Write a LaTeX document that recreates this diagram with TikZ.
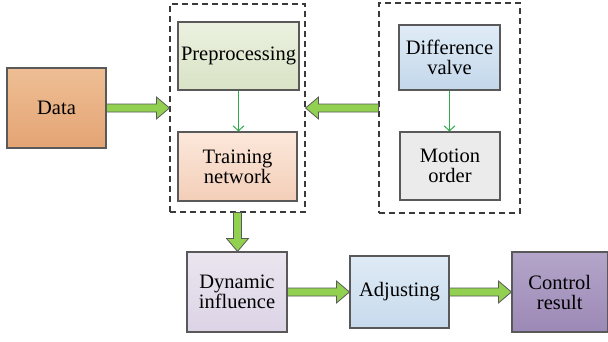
\documentclass[tikz,border=0pt]{standalone}
\usepackage{fontspec}
\setmainfont{Liberation Serif}
\usetikzlibrary{calc,arrows.meta}
\definecolor{arrowgreen}{HTML}{92D050}
\definecolor{outl}{HTML}{595959}
\definecolor{thingreen}{HTML}{2EAA4C}
\definecolor{dashc}{HTML}{3A3A3A}
\definecolor{dataT}{HTML}{EEBE94}\definecolor{dataB}{HTML}{E4A474}
\definecolor{preT}{HTML}{EBF1E0}\definecolor{preB}{HTML}{D9E3C5}
\definecolor{trT}{HTML}{FCE8DB}\definecolor{trB}{HTML}{F3CEB8}
\definecolor{diT}{HTML}{E0ECF7}\definecolor{diB}{HTML}{C3D7EA}
\definecolor{moF}{HTML}{EBEBEB}
\definecolor{dyT}{HTML}{EAE5EF}\definecolor{dyB}{HTML}{DCD4E6}
\definecolor{adT}{HTML}{DFEBF6}\definecolor{adB}{HTML}{C7DAEC}
\definecolor{crT}{HTML}{B4A5C9}\definecolor{crB}{HTML}{9C89B6}
\begin{document}
\begin{tikzpicture}[x=1pt,y=1pt,
  box/.style={draw=outl,line width=1.1pt,inner sep=0pt,align=center,
    font=\fontsize{20.5}{20}\selectfont},
  dashbox/.style={draw=dashc,line width=1.1pt,dash pattern=on 6pt off 4pt,inner sep=0pt},
  thin/.style={draw=thingreen,line width=1pt,-{Straight Barb[length=5pt,width=11pt]}},
  fat/.style={fill=arrowgreen,draw=outl,line width=0.8pt,line join=miter,
    to path={let \p1=(\tikztostart), \p2=(\tikztotarget),
      \n1={veclen(\x2-\x1,\y2-\y1)}, \n2={(\x2-\x1)/\n1}, \n3={(\y2-\y1)/\n1} in
      ({\x1-4*\n3},{\y1+4*\n2})
      -- ({\x1+(\n1-13)*\n2-4*\n3},{\y1+(\n1-13)*\n3+4*\n2})
      -- ({\x1+(\n1-13)*\n2-11*\n3},{\y1+(\n1-13)*\n3+11*\n2})
      -- ({\x1+\n1*\n2},{\y1+\n1*\n3})
      -- ({\x1+(\n1-13)*\n2+11*\n3},{\y1+(\n1-13)*\n3-11*\n2})
      -- ({\x1+(\n1-13)*\n2+4*\n3},{\y1+(\n1-13)*\n3-4*\n2})
      -- ({\x1+4*\n3},{\y1-4*\n2}) -- cycle}}
]
\useasboundingbox (0,0) rectangle (608,341);
% dashed groups
\node[dashbox,minimum width=135pt,minimum height=208pt] (leftbox) at (237.5,233) {};
\node[dashbox,minimum width=141pt,minimum height=210pt] (rightbox) at (449.5,233) {};
% boxes
\node[box,top color=dataT,bottom color=dataB,minimum width=99pt,minimum height=80pt] (data) at (56.5,233) {Data};
\node[box,top color=preT,bottom color=preB,minimum width=121pt,minimum height=68pt] (pre) at (238.5,285) {Preprocessing};
\node[box,top color=trT,bottom color=trB,minimum width=119pt,minimum height=69pt] (train) at (237.5,174.5) {Training\\network};
\node[box,top color=diT,bottom color=diB,minimum width=101pt,minimum height=65pt] (diff) at (449.5,283.5) {Difference\\valve};
\node[box,fill=moF,minimum width=100pt,minimum height=68pt] (motion) at (450,175) {Motion\\order};
\node[box,top color=dyT,bottom color=dyB,minimum width=100pt,minimum height=80pt] (dyn) at (237,49) {Dynamic\\influence};
\node[box,top color=adT,bottom color=adB,minimum width=99pt,minimum height=72pt] (adj) at (399.5,49) {Adjusting};
\node[box,top color=crT,bottom color=crB,minimum width=95.5pt,minimum height=80pt] (ctrl) at (559.75,49) {Control\\result};
% thin arrows
\draw[thin] (pre.south) -- (pre.south |- train.north);
\draw[thin] (diff.south) -- (diff.south |- motion.north);
% fat arrows
\draw[fat] (data.east) to (leftbox.west);
\draw[fat] (rightbox.west) to (leftbox.east);
\draw[fat] (leftbox.south) to (leftbox.south |- dyn.north);
\draw[fat] (dyn.east) to (adj.west);
\draw[fat] (adj.east) to (ctrl.west);
\end{tikzpicture}
\end{document}
